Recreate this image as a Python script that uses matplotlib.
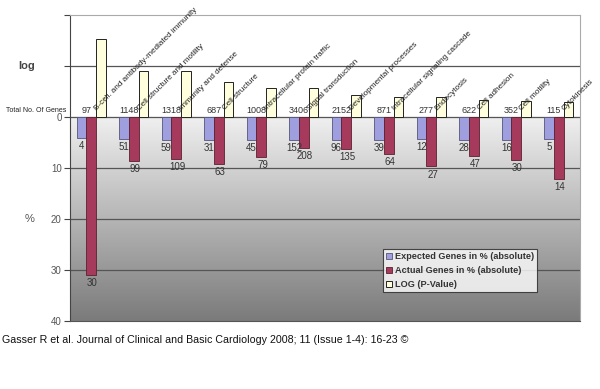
import numpy as np
import matplotlib.pyplot as plt
from matplotlib.colors import LinearSegmentedColormap

categories = ["B-cell. and antibody-mediated immunity", "Cell structure and motility",
              "Immunity and defense", "Cell structure", "Intracellular protein traffic",
              "Signal transduction", "Developmental processes",
              "Intracellular signaling cascade", "Endocytosis", "Cell adhesion",
              "Cell motility", "Cytokinesis"]
total_genes = [97, 1148, 1318, 687, 1008, 3406, 2152, 871, 277, 622, 352, 115]
expected_n = [4, 51, 59, 31, 45, 152, 96, 39, 12, 28, 16, 5]
actual_n = [30, 99, 109, 63, 79, 208, 135, 64, 27, 47, 30, 14]
expected_pct = [4.1, 4.4, 4.5, 4.5, 4.5, 4.5, 4.5, 4.5, 4.3, 4.5, 4.5, 4.3]
actual_pct = [30.9, 8.6, 8.3, 9.2, 7.8, 6.1, 6.3, 7.3, 9.7, 7.6, 8.5, 12.2]
log_p = [15.3, 9.0, 9.0, 6.9, 5.7, 5.7, 4.3, 3.9, 3.9, 3.3, 3.1, 2.9]

plt.rcParams['font.family'] = ['Liberation Sans', 'DejaVu Sans']

fig = plt.figure(figsize=(6, 3.89), dpi=100)
ax = fig.add_axes([70 / 600, 1 - 321 / 389, 510 / 600, 306 / 389])

x = np.arange(len(categories))
w = 0.23

# background: white above zero, gray gradient below
grad = np.concatenate([np.zeros(100), np.linspace(0.05, 1, 200)]).reshape(-1, 1)
cmap = LinearSegmentedColormap.from_list("bg", [(0, "#ffffff"), (0.05, "#efefef"), (1, "#7b7b7b")])
ax.imshow(grad, extent=[-0.5, 11.5, 40, -20], aspect='auto', cmap=cmap,
          vmin=0, vmax=1, zorder=0, interpolation='bilinear')

for yy in [-10, 0, 10, 20, 30]:
    ax.axhline(yy, color='#555555', lw=0.9, zorder=1)

ax.bar(x - w, expected_pct, w, color='#9f9fe0', edgecolor='#555577', lw=0.6, zorder=2,
       label='Expected Genes in % (absolute)')
ax.bar(x, actual_pct, w, color='#a63a5c', edgecolor='#5a2030', lw=0.6, zorder=2,
       label='Actual Genes in % (absolute)')
ax.bar(x + w, [-v for v in log_p], w, color='#ffffdd', edgecolor='#222222', lw=0.7, zorder=2,
       label='LOG (P-Value)')

for i in range(len(categories)):
    ax.text(x[i] - 0.12, -0.4, str(total_genes[i]), ha='center', va='bottom',
            fontsize=6.5, color='#333333', zorder=3)
    ax.text(x[i] - w, expected_pct[i] + 0.6, str(expected_n[i]), ha='center', va='top',
            fontsize=7, color='#333333', zorder=3)
    ax.text(x[i] + 0.03, actual_pct[i] + 0.6, str(actual_n[i]), ha='center', va='top',
            fontsize=7, color='#333333', zorder=3)
    ax.text(x[i] + 0.17, -1.0, categories[i], rotation=45, rotation_mode='anchor',
            ha='left', va='bottom', fontsize=5.9, color='#222222', zorder=3)

ax.set_xlim(-0.5, 11.5)
ax.set_ylim(40, -20)
ax.set_xticks([])
ax.set_yticks([-20, -10, 0, 10, 20, 30, 40])
ax.set_yticklabels(['', '', '0', '10', '20', '30', '40'], fontsize=7, color='#555555')
ax.tick_params(axis='y', length=4, color='#444444', pad=2)
for s in ['top', 'right']:
    ax.spines[s].set_color('#aaaaaa')
ax.spines['left'].set_color('#444444')
ax.spines['bottom'].set_color('#555555')

fig.text(27 / 600, 1 - 66 / 389, 'log', ha='center', va='center', fontsize=8,
         fontweight='bold', color='#444444')
fig.text(30 / 600, 1 - 219 / 389, '%', ha='center', va='center', fontsize=8, color='#555555')
fig.text(36 / 600, 1 - 111 / 389, 'Total No. Of Genes', ha='center', va='center',
         fontsize=5, color='#222222')

leg = ax.legend(loc='lower left', bbox_to_anchor=(0.614, 0.095), fontsize=6.6, frameon=True,
                fancybox=False, handlelength=0.7, handleheight=0.7, handletextpad=0.3,
                borderpad=0.3, labelspacing=0.55, borderaxespad=0)
leg.get_frame().set_edgecolor('#222222')
leg.get_frame().set_linewidth(0.8)
for t in leg.get_texts():
    t.set_fontweight('bold')
    t.set_color('#333333')

fig.text(2 / 600, 1 - 340 / 389,
         'Gasser R et al. Journal of Clinical and Basic Cardiology 2008; 11 (Issue 1-4): 16-23 \u00a9',
         ha='left', va='center', fontsize=7.7, color='#111111')

fig.savefig('out.png', dpi=100)
